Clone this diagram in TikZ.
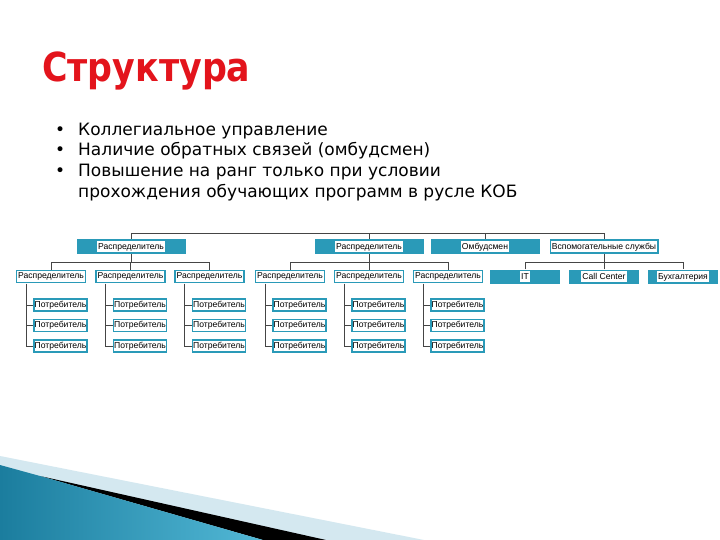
\documentclass[tikz,border=0pt]{standalone}
\usepackage{fontspec}
\usepackage{graphicx}
\setmainfont{DejaVu Sans}
\newfontfamily\boxfont{Liberation Sans}
\definecolor{tealc}{HTML}{2A9AB8}
\definecolor{titlered}{HTML}{E3141C}
\definecolor{linec}{HTML}{454545}
\definecolor{paleb}{HTML}{D4E8F0}
\definecolor{tealdark}{HTML}{1B7D9E}
\definecolor{teallight}{HTML}{52B8D6}
\begin{document}
\begin{tikzpicture}[x=1pt,y=-1pt,
  bullettext/.style={anchor=base west,inner sep=0pt,font=\fontsize{17}{17}\selectfont},
  filledbox/.style={fill=tealc,minimum width=109pt,minimum height=15pt,inner sep=0pt,font=\boxfont\fontsize{8.6}{8.6}\selectfont},
  filledsmall/.style={filledbox,minimum width=70pt,minimum height=14pt},
  framedbox/.style={draw=tealc,line width=1.8pt,fill=white,minimum width=69pt,minimum height=12pt,inner sep=0pt,font=\boxfont\fontsize{8.6}{8.6}\selectfont},
  leafbox/.style={framedbox,minimum width=53pt},
  conn/.style={draw=linec,line width=0.8pt}
]
\useasboundingbox (0,0) rectangle (720,540);
\fill[white] (0,0) rectangle (720,540);

% decoration bottom-left
\fill[paleb] (0,456) -- (424,540) -- (0,540) -- cycle;
\fill[black] (40,476) -- (326,540) -- (263,540) -- cycle;
\shade[left color=tealdark,right color=teallight] (0,465) -- (40,476) -- (263,540) -- (0,540) -- cycle;

% title
\node[anchor=base west,inner sep=0pt,text=titlered,font=\bfseries\fontsize{40}{40}\selectfont] (title) at (42,82) {\scalebox{0.87}[1]{Структура}};

% bullets
\foreach \yy/\nm in {136/b1,156/b2,177/b3}{
  \node[bullettext] (\nm) at (55,\yy) {•};
}
\node[bullettext] (t1) at (78,136) {Коллегиальное управление};
\node[bullettext] (t2) at (78,156) {Наличие обратных связей (омбудсмен)};
\node[bullettext] (t3) at (78,177) {Повышение на ранг только при условии};
\node[bullettext] (t4) at (78,198) {прохождения обучающих программ в русле КОБ};

% level 1
\newcommand{\lbl}[1]{\colorbox{white}{\rule[-1.5pt]{0pt}{8.5pt}#1}}
\setlength{\fboxsep}{1pt}
\node[filledbox] (d1) at (131,246.5) {\lbl{Распределитель}};
\node[filledbox] (d2) at (369,246.5) {\lbl{Распределитель}};
\node[filledbox] (om) at (485,246.5) {\lbl{Омбудсмен}};
\node[filledbox] (vs) at (604,246.5) {\lbl{Вспомогательные службы}};

% bus
\coordinate (busL) at (131,233);
\coordinate (busR) at (604,233);
\draw[conn] (d1.north) -- (busL) -- (busR) -- (vs.north);
\draw[conn] (d2.north) -- (d2.north |- busL);
\draw[conn] (om.north) -- (om.north |- busL);

% level 2
\foreach \c/\nm in {51/r1,130.5/r2,209.5/r3,290/r4,369/r5,448/r6}{
  \node[framedbox] (\nm) at (\c,276.5) {Распределитель};
}
\node[filledsmall] (it) at (525,276.5) {\lbl{IT}};
\node[filledsmall] (cc) at (604,276.5) {\lbl{Call Center}};
\node[filledsmall] (bu) at (683,276.5) {\lbl{Бухгалтерия}};

% group buses
\draw[conn] (d1.south) -- (131,262);
\draw[conn] (r1.north) -- (51,262) -- (209.5,262) -- (r3.north);
\draw[conn] (r2.north) -- (130.5,262);
\draw[conn] (d2.south) -- (369,262);
\draw[conn] (r4.north) -- (290,262) -- (448,262) -- (r6.north);
\draw[conn] (r5.north) -- (369,262);
\draw[conn] (vs.south) -- (604,262);
\draw[conn] (it.north) -- (525,262) -- (683,262) -- (bu.north);
\draw[conn] (cc.north) -- (604,262);

% level 3
\foreach \c/\nm in {51/r1,130.5/r2,209.5/r3,290/r4,369/r5,448/r6}{
  \node[leafbox] (\nm a) at (\c+9.5,305) {Потребитель};
  \node[leafbox] (\nm b) at (\c+9.5,325.5) {Потребитель};
  \node[leafbox] (\nm c) at (\c+9.5,346) {Потребитель};
  \coordinate (\nm v) at (\c-25,283.5);
  \draw[conn] (\nm v) |- (\nm c.west);
  \draw[conn] (\nm v |- \nm a.west) -- (\nm a.west);
  \draw[conn] (\nm v |- \nm b.west) -- (\nm b.west);
}
\end{tikzpicture}
\end{document}
